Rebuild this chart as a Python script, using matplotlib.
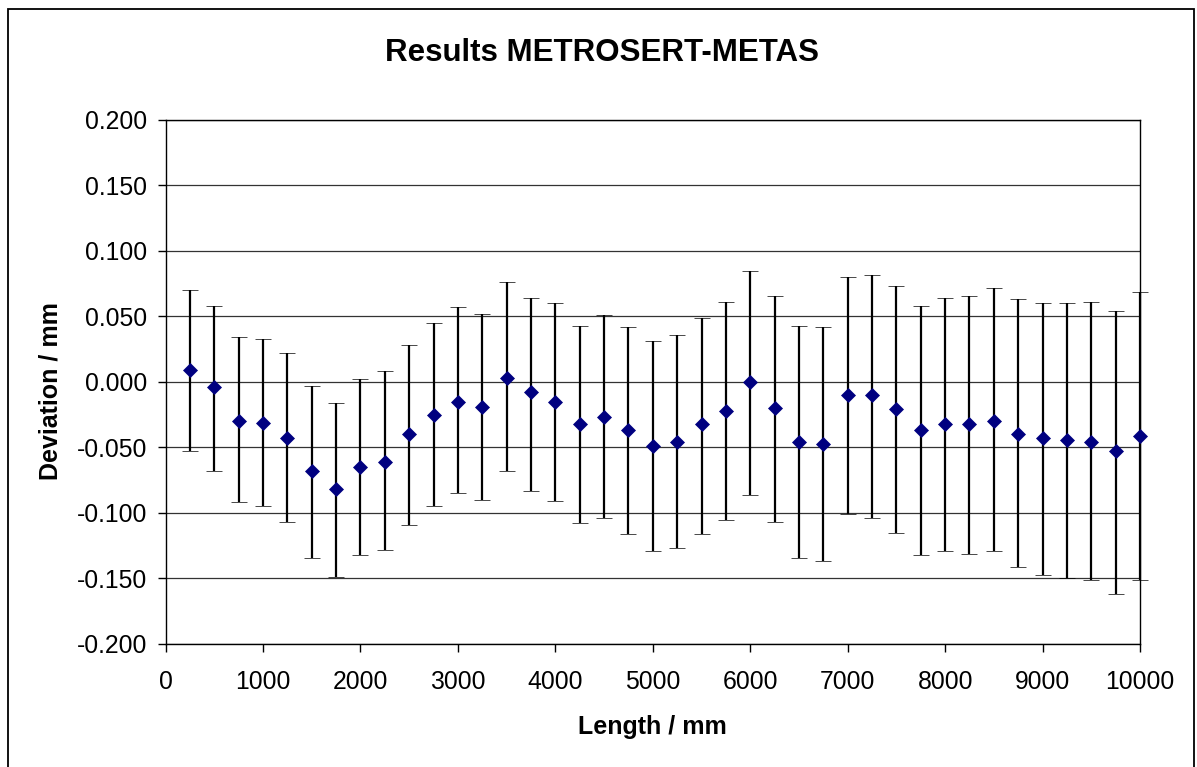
import matplotlib
matplotlib.use("Agg")
import matplotlib.pyplot as plt
import numpy as np
from matplotlib.patches import Rectangle

plt.rcParams['font.family'] = ['Liberation Sans', 'DejaVu Sans']

# data
length = [250, 500, 750, 1000, 1250, 1500, 1750, 2000, 2250, 2500,
          2750, 3000, 3250, 3500, 3750, 4000, 4250, 4500, 4750, 5000,
          5250, 5500, 5750, 6000, 6250, 6500, 6750, 7000, 7250, 7500,
          7750, 8000, 8250, 8500, 8750, 9000, 9250, 9500, 9750, 10000]
deviation = [0.009, -0.004, -0.030, -0.031, -0.043, -0.068, -0.082, -0.065, -0.061, -0.040,
             -0.025, -0.015, -0.019, 0.003, -0.008, -0.015, -0.032, -0.027, -0.037, -0.049,
             -0.046, -0.032, -0.022, 0.000, -0.020, -0.046, -0.047, -0.010, -0.010, -0.021,
             -0.037, -0.032, -0.032, -0.030, -0.040, -0.043, -0.044, -0.046, -0.053, -0.041]
upper = [0.070, 0.058, 0.034, 0.033, 0.022, -0.003, -0.016, 0.002, 0.008, 0.028,
         0.045, 0.057, 0.052, 0.076, 0.064, 0.060, 0.043, 0.051, 0.042, 0.031,
         0.036, 0.049, 0.061, 0.085, 0.066, 0.043, 0.042, 0.080, 0.082, 0.073,
         0.058, 0.064, 0.066, 0.072, 0.063, 0.060, 0.060, 0.061, 0.054, 0.069]
lower = [-0.053, -0.068, -0.092, -0.095, -0.107, -0.134, -0.149, -0.132, -0.128, -0.109,
         -0.095, -0.085, -0.090, -0.068, -0.083, -0.091, -0.108, -0.104, -0.116, -0.129,
         -0.127, -0.116, -0.105, -0.086, -0.107, -0.134, -0.137, -0.101, -0.104, -0.115,
         -0.132, -0.129, -0.131, -0.129, -0.141, -0.147, -0.150, -0.151, -0.162, -0.151]
y_ticks = [-0.200, -0.150, -0.100, -0.050, 0.000, 0.050, 0.100, 0.150, 0.200]
y_ticklabels = ['-0.200', '-0.150', '-0.100', '-0.050', '0.000',
                '0.050', '0.100', '0.150', '0.200']

y = np.array(deviation)
yerr = [y - np.array(lower), np.array(upper) - y]

fig = plt.figure(figsize=(11.97, 7.67), dpi=100)
ax = fig.add_axes([0.1383, 0.1604, 0.8141, 0.6832])

marks = ax.errorbar(length, y, yerr=yerr, fmt='D', color='#000080', markersize=7.5,
                    markeredgewidth=0.5, ecolor='black', elinewidth=1.6,
                    capsize=6, capthick=1.6, zorder=3)
for artist in marks.lines[0:1] + tuple(marks.lines[1]) + tuple(marks.lines[2]):
    artist.set_clip_on(False)

ax.set_xlim(0, 10000)
ax.set_ylim(-0.2, 0.2)
ax.set_xticks(np.arange(0, 10001, 1000))
ax.set_yticks(y_ticks)
ax.set_yticklabels(y_ticklabels)
ax.yaxis.grid(True, color='#333333', linewidth=0.9)
ax.set_axisbelow(True)
for s in ax.spines.values():
    s.set_color('black')
    s.set_linewidth(1.0)
ax.tick_params(axis='both', direction='out', length=6, width=1.0,
               labelsize=17.8, colors='black')
ax.tick_params(axis='x', pad=13)
ax.tick_params(axis='y', pad=7)

fig.text(0.503, 0.931, 'Results METROSERT-METAS', ha='center', va='center',
         fontsize=22.5, fontweight='bold')
fig.text(0.545, 0.052, 'Length / mm', ha='center', va='center',
         fontsize=18, fontweight='bold')
fig.text(0.042, 0.49, 'Deviation / mm', ha='center', va='center',
         rotation=90, fontsize=18, fontweight='bold')

# outer chart border
fig.patches.append(Rectangle((8 / 1197, -0.02), 1186 / 1197, 1.02 - 9 / 767,
                             transform=fig.transFigure, fill=False,
                             edgecolor='black', linewidth=1.3))

fig.savefig('out.png', dpi=100)
